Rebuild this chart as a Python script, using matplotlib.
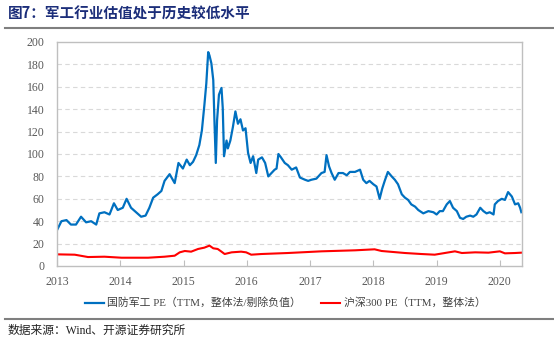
import matplotlib
matplotlib.use("Agg")
import matplotlib.pyplot as plt
from matplotlib.lines import Line2D

plt.rcParams['font.family'] = ['Liberation Serif', 'Noto Sans CJK SC', 'DejaVu Sans']

title = "图7：军工行业估值处于历史较低水平"
source = "数据来源：Wind、开源证券研究所"
label_def = "国防军工 PE（TTM，整体法/剔除负值）"
label_hs = "沪深300 PE（TTM，整体法）"
year_ticks = [2013, 2014, 2015, 2016, 2017, 2018, 2019, 2020]
y_ticks = [0, 20, 40, 60, 80, 100, 120, 140, 160, 180, 200]

def_x = [2013.00, 2013.07, 2013.15, 2013.22, 2013.30, 2013.38, 2013.46, 2013.54, 2013.62, 2013.67,
         2013.75, 2013.83, 2013.90, 2013.96, 2014.04, 2014.10, 2014.17, 2014.25, 2014.33, 2014.40,
         2014.46, 2014.52, 2014.59, 2014.65, 2014.70, 2014.78, 2014.86, 2014.92, 2014.99, 2015.05,
         2015.10, 2015.15, 2015.20, 2015.25, 2015.29, 2015.33, 2015.36, 2015.39, 2015.41, 2015.44,
         2015.47, 2015.49, 2015.51, 2015.53, 2015.56, 2015.60, 2015.62, 2015.64, 2015.68, 2015.70,
         2015.74, 2015.78, 2015.82, 2015.86, 2015.90, 2015.94, 2015.98, 2016.02, 2016.06, 2016.10,
         2016.15, 2016.18, 2016.24, 2016.29, 2016.34, 2016.39, 2016.44, 2016.47, 2016.50, 2016.54,
         2016.60, 2016.65, 2016.71, 2016.78, 2016.84, 2016.92, 2016.97, 2017.02, 2017.10, 2017.18,
         2017.23, 2017.26, 2017.30, 2017.34, 2017.39, 2017.45, 2017.52, 2017.58, 2017.63, 2017.71,
         2017.79, 2017.84, 2017.89, 2017.94, 2018.00, 2018.05, 2018.10, 2018.14, 2018.18, 2018.23,
         2018.29, 2018.34, 2018.39, 2018.45, 2018.50, 2018.55, 2018.60, 2018.66, 2018.71, 2018.79,
         2018.87, 2018.95, 2019.00, 2019.05, 2019.10, 2019.16, 2019.21, 2019.26, 2019.32, 2019.37,
         2019.42, 2019.47, 2019.53, 2019.58, 2019.63, 2019.69, 2019.74, 2019.79, 2019.84, 2019.90,
         2019.92, 2019.97, 2020.03, 2020.08, 2020.13, 2020.19, 2020.24, 2020.29, 2020.32, 2020.34]
def_pe = [32, 40, 41, 37, 37, 44, 39, 40, 37, 47,
          48, 46, 56, 50, 52, 60, 52, 48, 44, 45,
          52, 61, 64, 67, 76, 82, 74, 92, 87, 95,
          90, 93, 99, 108, 121, 144, 163, 191, 188, 181,
          166, 127, 92, 130, 153, 159, 141, 98, 112, 105,
          112, 124, 138, 127, 131, 121, 123, 101, 92, 98,
          83, 95, 97, 92, 80, 83, 86, 87, 100, 97,
          92, 90, 86, 88, 79, 77, 76, 77, 78, 83,
          84, 99, 89, 83, 77, 83, 83, 81, 84, 84,
          86, 77, 74, 76, 73, 71, 60, 69, 76, 84,
          80, 77, 73, 64, 61, 59, 55, 53, 50, 47,
          49, 48, 46, 49, 49, 55, 58, 52, 49, 43,
          42, 44, 45, 44, 46, 52, 49, 47, 48, 46,
          55, 58, 60, 59, 66, 62, 55, 56, 52, 48]

hs_x = [2013.00, 2013.28, 2013.49, 2013.75, 2014.02, 2014.44, 2014.70, 2014.86, 2014.94, 2015.02,
        2015.12, 2015.23, 2015.33, 2015.41, 2015.47, 2015.54, 2015.60, 2015.65, 2015.76, 2015.91,
        2015.99, 2016.07, 2016.23, 2016.65, 2017.18, 2017.71, 2018.02, 2018.13, 2018.50, 2018.76,
        2018.97, 2019.13, 2019.29, 2019.40, 2019.61, 2019.82, 2020.00, 2020.08, 2020.24, 2020.34]
hs_pe = [10.4, 10.1, 8.0, 8.3, 7.4, 7.4, 8.3, 9.2, 12.2, 13.4,
         12.8, 15.2, 16.4, 18.2, 15.8, 15.2, 12.8, 10.7, 12.2, 12.8,
         12.2, 10.1, 10.7, 11.6, 13.1, 14.0, 14.9, 13.4, 11.6, 10.7,
         10.1, 11.6, 13.1, 11.6, 12.2, 11.9, 13.1, 11.3, 11.6, 11.9]

W, H = 554, 341
fig = plt.figure(figsize=(W / 100, H / 100), dpi=100)
ax = fig.add_axes([57 / W, 1 - 266 / H, (522 - 57) / W, (266 - 42) / H])

ax.plot(def_x, def_pe, color='#0070C0', lw=1.6, label=label_def)
ax.plot(hs_x, hs_pe, color='#FF0000', lw=1.5, label=label_hs)

ax.set_xlim(2013, 2020.35)
ax.set_ylim(0, 200)
ax.set_yticks(y_ticks)
ax.set_xticks(year_ticks)
ax.set_xticklabels([str(y) for y in year_ticks])
for v in y_ticks[1:-1]:
    ax.axhline(v, color='#d9d9d9', lw=0.8, ls=(0, (4, 3)), zorder=0)
for s in ax.spines.values():
    s.set_color('#bfbfbf')
    s.set_linewidth(1.0)
ax.tick_params(axis='y', length=0, pad=9, labelsize=8.5, labelcolor='#595959')
ax.tick_params(axis='x', direction='in', length=4, color='#bfbfbf', pad=7,
               labelsize=8.5, labelcolor='#595959')

fig.text(8 / W, 1 - 14 / H, title, fontsize=10.5, fontweight='bold', color='#1c2e7a',
         family=['Noto Sans CJK SC', 'DejaVu Sans'], va='center', ha='left')
fig.add_artist(Line2D([5 / W, 1], [1 - 28 / H] * 2, color='#7f7f7f', lw=1.5))
fig.add_artist(Line2D([5 / W, 1], [1 - 319 / H] * 2, color='#7f7f7f', lw=1.5))
fig.text(8 / W, 1 - 331 / H, source, fontsize=8.5, color='#222222',
         family=['Liberation Serif', 'Noto Sans CJK SC'], va='center', ha='left')

fig.legend(loc='center', bbox_to_anchor=(285 / W, 1 - 303 / H), ncol=2, frameon=False,
           fontsize=7.8, handlelength=1.8, handletextpad=0.3, columnspacing=1.8,
           labelcolor='#404040')

fig.savefig('out.png', dpi=100)
